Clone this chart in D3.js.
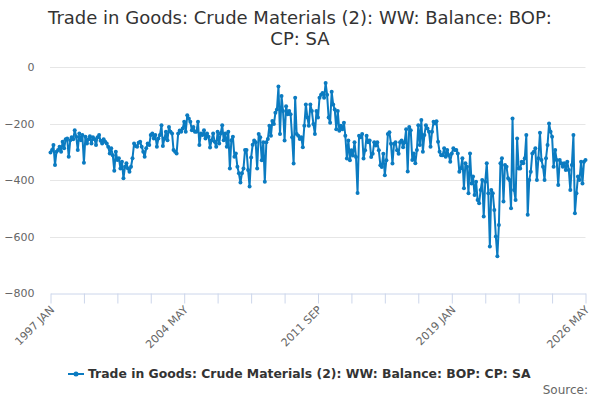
<!DOCTYPE html>
<html>
<head>
<meta charset="utf-8">
<script src="https://cdn.jsdelivr.net/npm/d3@7"></script>
<style>
  body { margin: 0; background: #fff; }
  text { font-family: "DejaVu Sans", sans-serif; }
</style>
</head>
<body>
<div id="app"></div>
<script>
// monthly values, 1997 JAN .. 2026 MAY (£ million)
const y1997to2001 = [
  -303, -294, -276, -347, -300, -294, -282, -300, -265, -288, -256, -253,
  -318, -259, -249, -256, -224, -247, -294, -235, -259, -241, -339, -247,
  -271, -256, -245, -271, -249, -256, -276, -249, -241, -261, -271, -256,
  -265, -271, -282, -306, -288, -312, -367, -300, -329, -323, -359, -335,
  -394, -353, -341, -359, -371, -353, -323, -271, -280, -282, -268, -265,
];
const y2002to2006 = [
  -282, -300, -318, -288, -271, -276, -241, -235, -253, -241, -282, -253,
  -241, -206, -280, -253, -229, -259, -212, -229, -235, -294, -300, -306,
  -235, -225, -229, -218, -194, -229, -171, -182, -194, -224, -212, -229,
  -229, -194, -276, -235, -241, -224, -253, -235, -247, -285, -259, -235,
  -265, -282, -229, -271, -235, -206, -259, -235, -282, -229, -359, -259,
];
const y2007to2011 = [
  -247, -318, -306, -353, -376, -409, -376, -359, -294, -294, -365, -423,
  -320, -275, -260, -266, -359, -237, -249, -330, -266, -406, -266, -255,
  -208, -243, -191, -202, -162, -150, -69, -237, -103, -156, -260, -139,
  -167, -156, -167, -249, -342, -109, -237, -243, -255, -249, -284, -208,
  -133, -179, -208, -133, -156, -202, -237, -156, -179, -109, -98, -92,
];
const y2012to2016 = [
  -109, -57, -98, -179, -197, -88, -133, -150, -220, -156, -226, -208,
  -220, -197, -243, -324, -260, -330, -295, -313, -266, -319, -446, -243,
  -249, -237, -324, -295, -243, -266, -260, -319, -307, -266, -278, -266,
  -295, -348, -354, -307, -383, -330, -237, -231, -272, -342, -272, -266,
  -295, -307, -266, -260, -284, -266, -220, -370, -212, -224, -329, -306,
];
const y2017to2021 = [
  -341, -294, -206, -276, -188, -300, -241, -206, -218, -229, -282, -229,
  -194, -200, -192, -265, -300, -312, -312, -288, -318, -294, -312, -335,
  -306, -288, -294, -294, -306, -371, -359, -323, -429, -341, -353, -447,
  -306, -412, -388, -453, -406, -471, -482, -435, -400, -529, -406, -341,
  -447, -635, -435, -447, -506, -600, -670, -559, -341, -323, -476, -347,
];
const y2022to2026 = [
  -353, -394, -400, -500, -182, -435, -471, -253, -359, -359, -335, -341,
  -323, -241, -523, -400, -371, -306, -300, -288, -400, -323, -233, -329,
  -353, -400, -323, -276, -200, -229, -247, -353, -294, -329, -418, -329,
  -341, -353, -341, -365, -335, -365, -435, -347, -241, -518, -447, -388,
  -400, -335, -412, -335, -329,
];

const xTickLabels = ['1997 JAN', '2004 MAY', '2011 SEP', '2019 JAN', '2026 MAY'];
const yTicks = [0, -200, -400, -600, -800];
const seriesName = 'Trade in Goods: Crude Materials (2): WW: Balance: BOP: CP: SA';

const values = [].concat(y1997to2001, y2002to2006, y2007to2011, y2012to2016, y2017to2021, y2022to2026);
const startDate = new Date(1997, 0, 1);
const data = values.map((v, i) => ({ date: d3.timeMonth.offset(startDate, i), value: v }));

const W = 600, H = 400;
const margin = { top: 67, right: 14.5, bottom: 107, left: 50.5 };
const COLOR = '#0b7bc1';

const svg = d3.select('#app').append('svg').attr('width', W).attr('height', H);

const x = d3.scaleTime()
  .domain([startDate, d3.timeMonth.offset(startDate, 352)])
  .range([margin.left, W - margin.right]);

const y = d3.scaleLinear()
  .domain([-800, 0])
  .range([H - margin.bottom, margin.top]);

// title
svg.append('text')
  .attr('x', W / 2)
  .attr('y', 24)
  .attr('text-anchor', 'middle')
  .style('font-size', '18px')
  .attr('fill', '#333')
  .selectAll('tspan')
  .data(['Trade in Goods: Crude Materials (2): WW: Balance: BOP:', 'CP: SA'])
  .join('tspan')
  .attr('x', W / 2)
  .attr('dy', (d, i) => (i === 0 ? 0 : 21))
  .text((d) => d);

// grid lines
svg.append('g')
  .selectAll('line')
  .data(yTicks.filter((d) => d !== -800))
  .join('line')
  .attr('x1', margin.left - 0.5)
  .attr('x2', W - margin.right)
  .attr('y1', (d) => Math.round(y(d)) + 0.5)
  .attr('y2', (d) => Math.round(y(d)) + 0.5)
  .attr('stroke', '#e6e6e6');

// y axis labels
svg.append('g')
  .attr('transform', `translate(${margin.left - 16},0)`)
  .call(d3.axisLeft(y).tickValues(yTicks).tickSize(0).tickPadding(0))
  .call((g) => g.select('.domain').remove())
  .call((g) => g.selectAll('text')
    .attr('fill', '#666')
    .style('font-size', '11px')
    .style('font-family', '"DejaVu Sans", sans-serif'));

// x axis
const xTicks = d3.range(0, 17).map((k) => d3.timeMonth.offset(startDate, k * 22));
const xAxis = svg.append('g')
  .attr('transform', `translate(0,${Math.round(y(-800)) + 0.5})`)
  .call(d3.axisBottom(x)
    .tickValues(xTicks)
    .tickSize(10)
    .tickSizeOuter(0)
    .tickFormat((d, i) => (i % 4 === 0 ? xTickLabels[i / 4] : '')));
xAxis.select('.domain').attr('stroke', '#ccd6eb');
xAxis.selectAll('.tick line').attr('stroke', '#ccd6eb');
xAxis.selectAll('.tick text')
  .attr('fill', '#666')
  .style('font-size', '11px')
  .style('font-family', '"DejaVu Sans", sans-serif')
  .attr('text-anchor', 'end')
  .attr('dy', 0)
  .attr('y', 0)
  .attr('transform', 'translate(4,17) rotate(-45)');

// series line + markers
const line = d3.line().x((d) => x(d.date)).y((d) => y(d.value));

svg.append('path')
  .datum(data)
  .attr('fill', 'none')
  .attr('stroke', COLOR)
  .attr('stroke-width', 2)
  .attr('stroke-linejoin', 'round')
  .attr('d', line);

svg.append('g')
  .selectAll('circle')
  .data(data)
  .join('circle')
  .attr('cx', (d) => x(d.date))
  .attr('cy', (d) => y(d.value))
  .attr('r', 2)
  .attr('fill', COLOR);

// legend
const legend = svg.append('g').attr('transform', 'translate(68,374)');
legend.append('line')
  .attr('x1', 0).attr('x2', 16)
  .attr('stroke', COLOR)
  .attr('stroke-width', 2);
legend.append('circle').attr('cx', 8).attr('r', 2.5).attr('fill', COLOR);
legend.append('text')
  .attr('x', 20)
  .attr('y', 4)
  .attr('fill', '#333')
  .style('font-size', '12.4px')
  .style('font-weight', 'bold')
  .text(seriesName);

// credits
svg.append('text')
  .attr('x', 588)
  .attr('y', 394)
  .attr('text-anchor', 'end')
  .attr('fill', '#666')
  .style('font-size', '12px')
  .text('Source:');
</script>
</body>
</html>
